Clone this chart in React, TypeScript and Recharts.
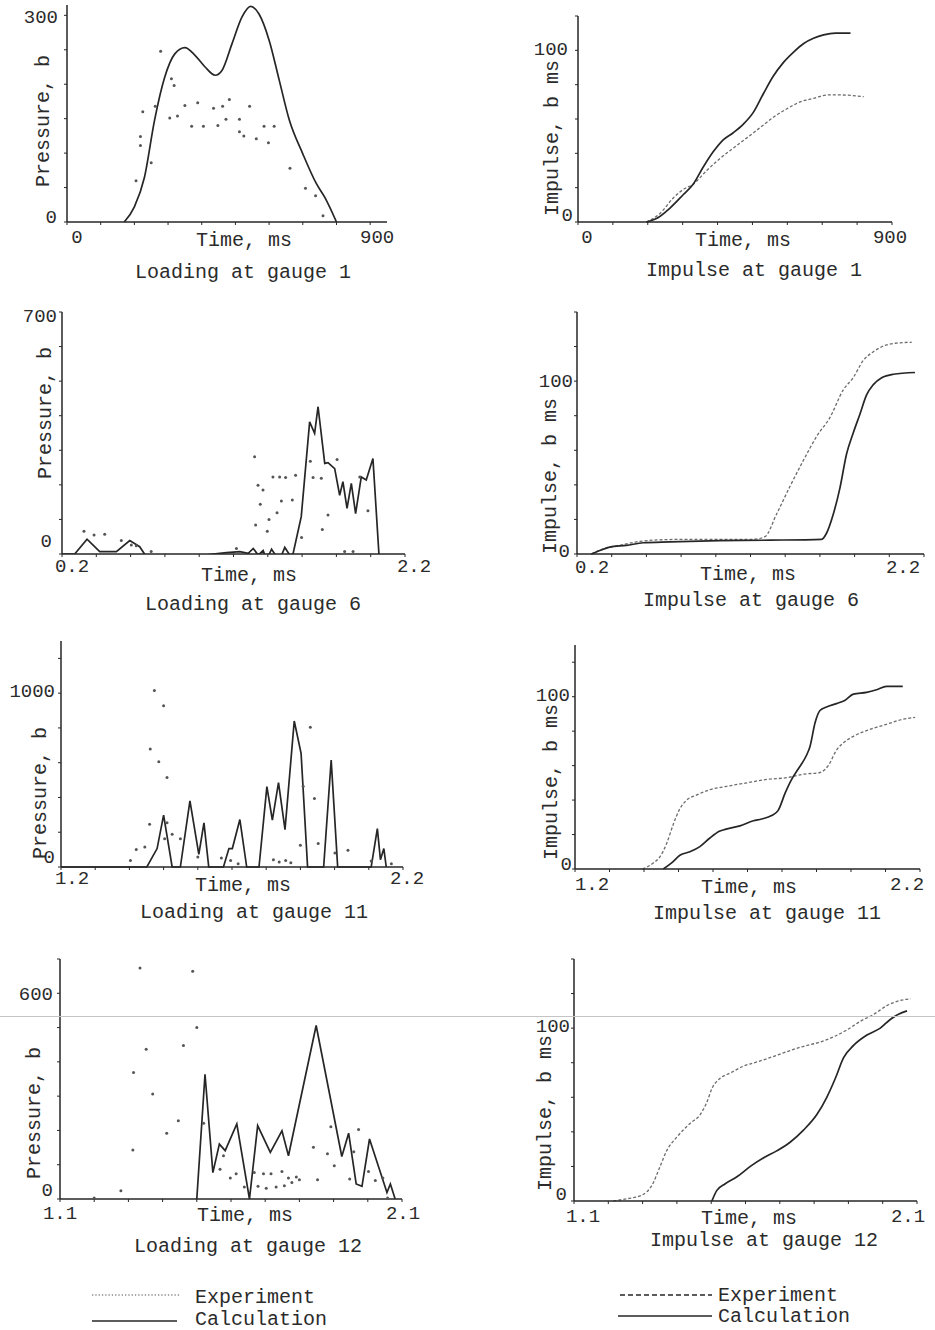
import { ComposedChart, Line, Scatter, XAxis, YAxis, Legend } from 'recharts'

type Pt = [number, number]

// ---- gauge 1: time in ms ----
const g1LoadExp: Pt[] = [
  [205, 60], [218, 124], [218, 111], [225, 160], [250, 86], [262, 168], [278, 248], [305, 151],
  [310, 208], [318, 198], [328, 154], [350, 169], [370, 139], [388, 173], [405, 139], [435, 165],
  [448, 140], [462, 168], [472, 149], [482, 178], [512, 149], [512, 131], [525, 125], [542, 168],
  [562, 121], [585, 139], [598, 115], [615, 139], [662, 78], [708, 49], [738, 38], [760, 9],
]
const g1LoadCalc: Pt[] = [
  [170, 0], [200, 22], [230, 65], [260, 148], [290, 210], [320, 244], [350, 253], [380, 242],
  [410, 225], [440, 213], [460, 220], [490, 259], [520, 298], [545, 313], [570, 302], [600, 264],
  [630, 206], [660, 148], [700, 99], [740, 56], [765, 36], [800, 0],
]
const g1ImpExp: Pt[] = [
  [196, 0], [235, 5], [273, 14], [302, 19], [330, 22], [369, 30], [407, 37], [445, 43], [484, 49],
  [522, 55], [560, 61], [599, 66], [637, 70], [675, 72], [714, 74], [752, 74], [819, 73],
]
const g1ImpCalc: Pt[] = [
  [196, 0], [225, 2], [263, 8], [302, 16], [330, 22], [359, 32], [388, 41], [417, 48], [445, 52],
  [474, 57], [503, 64], [532, 75], [560, 85], [589, 93], [618, 99], [647, 104], [675, 107],
  [704, 109], [738, 110], [781, 110],
]

// ---- gauge 6 ----
const g6LoadExp: Pt[] = [
  [0.328, 66], [0.387, 55], [0.449, 57], [0.546, 39], [0.604, 26], [0.633, 24], [0.72, 7],
  [1.217, 16], [1.323, 281], [1.343, 199], [1.372, 185], [1.356, 144], [1.329, 84], [1.407, 100],
  [1.397, 66], [1.43, 223], [1.454, 119], [1.469, 223], [1.504, 221], [1.479, 153], [1.543, 156],
  [1.562, 228], [1.597, 48], [1.648, 268], [1.664, 221], [1.712, 219], [1.718, 71], [1.751, 113],
  [1.804, 273], [1.848, 7], [1.897, 7], [1.936, 223], [1.984, 125],
]
const g6LoadCalc: Pt[] = [
  [0.2, 0], [0.274, 0], [0.346, 43], [0.42, 7], [0.517, 7], [0.595, 39], [0.653, 21], [0.692, -8],
  [0.77, -3], [0.848, -6], [0.926, -3], [1.003, -6], [1.081, 0], [1.159, 4], [1.237, 7],
  [1.286, 2], [1.315, 16], [1.344, -3], [1.373, 10], [1.393, -17], [1.422, 14], [1.451, -8],
  [1.47, -16], [1.499, 19], [1.528, -3], [1.547, 0], [1.595, 108], [1.644, 382], [1.673, 349],
  [1.693, 426], [1.732, 262], [1.751, 264], [1.79, 247], [1.819, 170], [1.838, 209], [1.862, 132],
  [1.887, 204], [1.912, 117], [1.945, 223], [1.974, 214], [2.013, 276], [2.048, 0],
]
const g6ImpExp: Pt[] = [
  [0.283, 0], [0.35, 3], [0.446, 5], [0.542, 7], [0.638, 8], [0.831, 8.5], [1.023, 8.5],
  [1.215, 8.5], [1.283, 10], [1.35, 23], [1.427, 39], [1.504, 54], [1.581, 68], [1.658, 79],
  [1.735, 95], [1.792, 102], [1.85, 112], [1.908, 117], [1.985, 121], [2.042, 122], [2.129, 122.5],
]
const g6ImpCalc: Pt[] = [
  [0.283, 0], [0.331, 2], [0.388, 4], [0.485, 5], [0.581, 6.5], [0.735, 7], [1.023, 7.7],
  [1.312, 8], [1.61, 8.5], [1.638, 12], [1.677, 23], [1.715, 38], [1.754, 58], [1.792, 70],
  [1.831, 81], [1.869, 92], [1.908, 98], [1.956, 102], [2.023, 104], [2.148, 105],
]

// ---- gauge 11 ----
const g11LoadExp: Pt[] = [
  [1.403, 38], [1.42, 100], [1.445, 115], [1.459, 246], [1.461, 679], [1.473, 1015], [1.486, 606],
  [1.5, 927], [1.51, 515], [1.503, 163], [1.51, 254], [1.525, 188], [1.549, 163], [1.6, 58],
  [1.669, 52], [1.696, 38], [1.718, 19], [1.821, 42], [1.838, 29], [1.857, 38], [1.872, 25],
  [1.9, 125], [1.908, 465], [1.929, 804], [1.941, 394], [1.952, 135], [2.001, 81], [2.039, 96],
  [2.107, 35], [2.166, 19],
]
const g11LoadCalc: Pt[] = [
  [1.2, 0], [1.451, 0], [1.481, 106], [1.5, 298], [1.525, 0], [1.549, 0], [1.577, 381],
  [1.603, 73], [1.618, 254], [1.632, 0], [1.675, 0], [1.691, 106], [1.701, 106], [1.723, 273],
  [1.743, 0], [1.779, 0], [1.802, 462], [1.818, 269], [1.836, 485], [1.855, 215], [1.882, 840],
  [1.902, 654], [1.921, 0], [1.968, 0], [1.99, 615], [2.009, 0], [2.107, 0], [2.125, 221],
  [2.134, 42], [2.144, 106], [2.151, 0],
]
const g11ImpExp: Pt[] = [
  [1.396, 0], [1.427, 3.5], [1.446, 7], [1.466, 15], [1.485, 26], [1.504, 35], [1.524, 40],
  [1.553, 43], [1.591, 46], [1.64, 48], [1.698, 50], [1.756, 52], [1.814, 53], [1.862, 55],
  [1.91, 56], [1.934, 60], [1.958, 69], [1.983, 74], [2.007, 77], [2.055, 81], [2.103, 84],
  [2.152, 87], [2.186, 88],
]
const g11ImpCalc: Pt[] = [
  [1.456, 0], [1.48, 3.5], [1.504, 8], [1.533, 10], [1.562, 13], [1.591, 18], [1.62, 22],
  [1.635, 23], [1.678, 25], [1.717, 28], [1.741, 29], [1.77, 31], [1.789, 34], [1.809, 44],
  [1.828, 52], [1.847, 58], [1.871, 66], [1.881, 71], [1.896, 85], [1.91, 92], [1.929, 94],
  [1.958, 96], [1.983, 98], [2.007, 101.5], [2.045, 102.5], [2.074, 104], [2.103, 106], [2.15, 106],
]

// ---- gauge 12 ----
const g12LoadExp: Pt[] = [
  [1.2, 3], [1.278, 24], [1.313, 143], [1.315, 369], [1.334, 674], [1.352, 437], [1.371, 306],
  [1.412, 192], [1.446, 228], [1.461, 448], [1.488, 664], [1.5, 500], [1.52, 221], [1.568, 87],
  [1.578, 126], [1.598, 61], [1.615, 74], [1.639, 35], [1.668, 77], [1.679, 37], [1.695, 74],
  [1.703, 31], [1.717, 74], [1.732, 35], [1.749, 80], [1.756, 39], [1.768, 61], [1.778, 48],
  [1.791, 64], [1.8, 56], [1.841, 151], [1.853, 56], [1.882, 132], [1.892, 211], [1.902, 97],
  [1.947, 58], [1.959, 138], [1.973, 203], [2.002, 80], [2.022, 54], [2.044, 61], [2.058, 3],
]
const g12LoadCalc: Pt[] = [
  [1.5, 0], [1.524, 364], [1.547, 77], [1.566, 160], [1.583, 141], [1.617, 219], [1.654, 0],
  [1.678, 214], [1.715, 136], [1.749, 199], [1.768, 126], [1.849, 506], [1.924, 124],
  [1.944, 192], [1.966, 44], [1.983, 37], [2.005, 175], [2.056, 19], [2.066, 44], [2.08, 0],
]
const g12ImpExp: Pt[] = [
  [1.215, 0], [1.254, 1.3], [1.297, 3.3], [1.327, 9], [1.351, 20], [1.37, 29], [1.4, 37],
  [1.439, 45], [1.468, 50], [1.487, 57], [1.502, 65], [1.526, 71], [1.555, 74], [1.594, 78],
  [1.643, 81], [1.701, 85], [1.76, 89], [1.818, 92], [1.857, 95], [1.896, 99], [1.935, 104],
  [1.974, 108], [2.012, 113], [2.051, 116], [2.081, 117],
]
const g12ImpCalc: Pt[] = [
  [1.502, 0], [1.516, 6], [1.541, 10], [1.575, 14], [1.614, 20], [1.653, 25], [1.691, 29],
  [1.73, 34], [1.769, 41], [1.808, 50], [1.837, 60], [1.862, 71], [1.886, 83], [1.915, 90],
  [1.954, 96], [1.993, 100], [2.022, 105], [2.046, 108], [2.071, 110],
]

// ---- ticks ----
const g1TimeTicks = [0, 100, 200, 300, 400, 500, 600, 700, 800, 900]
const g1PressureTicks = [0, 50, 100, 150, 200, 250, 300]
const g6TimeTicks = [0.2, 0.4, 0.6, 0.8, 1.0, 1.2, 1.4, 1.6, 1.8, 2.0, 2.2]
const g6PressureTicks = [0, 100, 200, 300, 400, 500, 600, 700]
const g11TimeTicks = [1.2, 1.3, 1.4, 1.5, 1.6, 1.7, 1.8, 1.9, 2.0, 2.1, 2.2]
const g11PressureTicks = [0, 200, 400, 600, 800, 1000, 1200]
const g12TimeTicks = [1.1, 1.2, 1.3, 1.4, 1.5, 1.6, 1.7, 1.8, 1.9, 2.0, 2.1]
const g12PressureTicks = [0, 100, 200, 300, 400, 500, 600, 700]
const impulseTicks120 = [0, 20, 40, 60, 80, 100, 120]
const impulseTicks140 = [0, 20, 40, 60, 80, 100, 120, 140]

const SERIES_NAMES = ['Experiment', 'Calculation']

const MONO = '"Liberation Mono", "DejaVu Sans Mono", monospace'
const INK = '#262626'
const GREY = '#6c6c6c'
const tickText = { fontFamily: MONO, fontSize: 19, fill: '#2b2b2b' }
const titleText = { fontFamily: MONO, fontSize: 20, fill: '#2b2b2b' }

interface PanelSpec {
  id: string
  left: number
  top: number
  width: number
  height: number
  plot: { x0: number; x1: number; y0: number; y1: number }
  xDomain: [number, number]
  yDomain: [number, number]
  xTicks: number[]
  yTicks: number[]
  xLabels: { value: number; dx: number }[]
  xLabelY: number
  yLabels: { value: number; dy: number; gap: number }[]
  yTitle: string
  yTitleAt: [number, number]
  xTitleAt: [number, number]
  caption: string
  captionAt: [number, number]
  exp: Pt[]
  calc: Pt[]
  expStyle: 'dots' | 'dashed'
  smooth: boolean
  clip?: boolean
  legend?: { left: number; top: number }
}

const panels: PanelSpec[] = [
  {
    id: 'load1', left: 0, top: -3, width: 430, height: 291,
    plot: { x0: 67, x1: 387, y0: 5, y1: 222 },
    xDomain: [0, 950], yDomain: [0, 315], xTicks: g1TimeTicks, yTicks: g1PressureTicks,
    xLabels: [{ value: 0, dx: 10 }, { value: 900, dx: 7 }], xLabelY: 238,
    yLabels: [{ value: 0, dy: -4, gap: 10 }, { value: 300, dy: 3, gap: 9 }],
    yTitle: 'Pressure, b', yTitleAt: [43, 121], xTitleAt: [244, 240],
    caption: 'Loading at gauge 1', captionAt: [243, 272],
    exp: g1LoadExp, calc: g1LoadCalc, expStyle: 'dots', smooth: true,
  },
  {
    id: 'load6', left: 0, top: 304, width: 430, height: 316,
    plot: { x0: 62, x1: 405, y0: 312, y1: 554 },
    xDomain: [0.2, 2.2], yDomain: [0, 700], xTicks: g6TimeTicks, yTicks: g6PressureTicks,
    xLabels: [{ value: 0.2, dx: 10 }, { value: 2.2, dx: 9 }], xLabelY: 567,
    yLabels: [{ value: 0, dy: -12, gap: 10 }, { value: 700, dy: 5, gap: 5 }],
    yTitle: 'Pressure, b', yTitleAt: [45, 413], xTitleAt: [249, 575],
    caption: 'Loading at gauge 6', captionAt: [253, 604],
    exp: g6LoadExp, calc: g6LoadCalc, expStyle: 'dots', smooth: false, clip: true,
  },
  {
    id: 'load11', left: 0, top: 633, width: 430, height: 295,
    plot: { x0: 61, x1: 403, y0: 641, y1: 867 },
    xDomain: [1.2, 2.2], yDomain: [0, 1300], xTicks: g11TimeTicks, yTicks: g11PressureTicks,
    xLabels: [{ value: 1.2, dx: 11 }, { value: 2.2, dx: 4 }], xLabelY: 879,
    yLabels: [{ value: 0, dy: -9, gap: 6 }, { value: 1000, dy: -1, gap: 6 }],
    yTitle: 'Pressure, b', yTitleAt: [40, 793], xTitleAt: [243, 885],
    caption: 'Loading at gauge 11', captionAt: [254, 912],
    exp: g11LoadExp, calc: g11LoadCalc, expStyle: 'dots', smooth: false,
  },
  {
    id: 'load12', left: 0, top: 951, width: 430, height: 379,
    plot: { x0: 60, x1: 402, y0: 959, y1: 1199 },
    xDomain: [1.1, 2.1], yDomain: [0, 700], xTicks: g12TimeTicks, yTicks: g12PressureTicks,
    xLabels: [{ value: 1.1, dx: 0 }, { value: 2.1, dx: 1 }], xLabelY: 1214,
    yLabels: [{ value: 0, dy: -8, gap: 7 }, { value: 600, dy: 2, gap: 7 }],
    yTitle: 'Pressure, b', yTitleAt: [34, 1113], xTitleAt: [245, 1215],
    caption: 'Loading at gauge 12', captionAt: [248, 1246],
    exp: g12LoadExp, calc: g12LoadCalc, expStyle: 'dots', smooth: false,
    legend: { left: 90, top: 333 },
  },
  {
    id: 'imp1', left: 505, top: 8, width: 430, height: 278,
    plot: { x0: 578, x1: 892, y0: 16, y1: 222 },
    xDomain: [0, 900], yDomain: [0, 120], xTicks: g1TimeTicks, yTicks: impulseTicks120,
    xLabels: [{ value: 0, dx: 9 }, { value: 900, dx: -2 }], xLabelY: 238,
    yLabels: [{ value: 0, dy: -6, gap: 5 }, { value: 100, dy: 0, gap: 10 }],
    yTitle: 'Impulse, b ms', yTitleAt: [552, 138], xTitleAt: [743, 240],
    caption: 'Impulse at gauge 1', captionAt: [754, 270],
    exp: g1ImpExp, calc: g1ImpCalc, expStyle: 'dashed', smooth: true,
  },
  {
    id: 'imp6', left: 505, top: 304, width: 430, height: 312,
    plot: { x0: 577, x1: 924, y0: 312, y1: 554 },
    xDomain: [0.2, 2.2], yDomain: [0, 140], xTicks: g6TimeTicks, yTicks: impulseTicks140,
    xLabels: [{ value: 0.2, dx: 15 }, { value: 2.2, dx: -21 }], xLabelY: 568,
    yLabels: [{ value: 0, dy: -2, gap: 7 }, { value: 100, dy: 1, gap: 4 }],
    yTitle: 'Impulse, b ms', yTitleAt: [550, 476], xTitleAt: [748, 574],
    caption: 'Impulse at gauge 6', captionAt: [751, 600],
    exp: g6ImpExp, calc: g6ImpCalc, expStyle: 'dashed', smooth: true,
  },
  {
    id: 'imp11', left: 505, top: 637, width: 430, height: 292,
    plot: { x0: 575, x1: 920, y0: 645, y1: 869 },
    xDomain: [1.2, 2.2], yDomain: [0, 130], xTicks: g11TimeTicks, yTicks: impulseTicks120,
    xLabels: [{ value: 1.2, dx: 17 }, { value: 2.2, dx: -13 }], xLabelY: 885,
    yLabels: [{ value: 0, dy: -4, gap: 3 }, { value: 100, dy: -1, gap: 5 }],
    yTitle: 'Impulse, b ms', yTitleAt: [551, 782], xTitleAt: [749, 887],
    caption: 'Impulse at gauge 11', captionAt: [767, 913],
    exp: g11ImpExp, calc: g11ImpCalc, expStyle: 'dashed', smooth: true,
  },
  {
    id: 'imp12', left: 505, top: 951, width: 430, height: 379,
    plot: { x0: 574, x1: 917, y0: 959, y1: 1201 },
    xDomain: [1.1, 2.1], yDomain: [0, 140], xTicks: g12TimeTicks, yTicks: impulseTicks140,
    xLabels: [{ value: 1.1, dx: 9 }, { value: 2.1, dx: -9 }], xLabelY: 1217,
    yLabels: [{ value: 0, dy: -6, gap: 7 }, { value: 100, dy: -1, gap: 4 }],
    yTitle: 'Impulse, b ms', yTitleAt: [545, 1113], xTitleAt: [749, 1218],
    caption: 'Impulse at gauge 12', captionAt: [764, 1240],
    exp: g12ImpExp, calc: g12ImpCalc, expStyle: 'dashed', smooth: true,
    legend: { left: 107, top: 331 },
  },
]

const toRows = (pts: Pt[]) => pts.map(([t, v]) => ({ t, v }))
const near = (a: number, b: number) => Math.abs(a - b) < 1e-6

const LegendKey = ({ kind }: { kind: 'dots' | 'dashed' }) => {
  const dotted = kind === 'dots'
  const x1 = dotted ? 90 : 100
  const tx = dotted ? 105 : 106
  return (
    <svg width={280} height={48} style={{ display: 'block' }}>
      <line x1={dotted ? 2 : 8} x2={x1} y1={dotted ? 11 : 13} y2={dotted ? 11 : 13}
        stroke={dotted ? '#8a8a8a' : INK} strokeWidth={dotted ? 1.6 : 1.3}
        strokeDasharray={dotted ? '1.3 2' : '5 3'} />
      <text x={tx} y={13} dominantBaseline="central" style={titleText}>{SERIES_NAMES[0]}</text>
      <line x1={dotted ? 2 : 6} x2={dotted ? 87 : x1} y1={dotted ? 37 : 34} y2={dotted ? 37 : 34}
        stroke={INK} strokeWidth={1.7} />
      <text x={tx} y={dotted ? 35 : 34} dominantBaseline="central" style={titleText}>{SERIES_NAMES[1]}</text>
    </svg>
  )
}

const Panel = ({ spec }: { spec: PanelSpec }) => {
  const { left, top, width, height, plot } = spec
  const lx = (x: number) => x - left
  const ly = (y: number) => y - top

  const xTick = (props: any) => {
    const hit = spec.xLabels.find((l) => near(l.value, props.payload.value))
    if (!hit) return <g />
    return (
      <text x={props.x + hit.dx} y={ly(spec.xLabelY)} textAnchor="middle" dominantBaseline="central" style={tickText}>
        {String(hit.value)}
      </text>
    )
  }
  const yTick = (props: any) => {
    const hit = spec.yLabels.find((l) => near(l.value, props.payload.value))
    if (!hit) return <g />
    return (
      <text x={props.x + 3 - hit.gap} y={props.y + hit.dy} textAnchor="end" dominantBaseline="central" style={tickText}>
        {String(hit.value)}
      </text>
    )
  }
  const xTitles = () => (
    <g>
      <text x={lx(spec.xTitleAt[0])} y={ly(spec.xTitleAt[1])} textAnchor="middle" dominantBaseline="central" style={titleText}>
        Time, ms
      </text>
      <text x={lx(spec.captionAt[0])} y={ly(spec.captionAt[1])} textAnchor="middle" dominantBaseline="central" style={titleText}>
        {spec.caption}
      </text>
    </g>
  )
  const yTitle = () => {
    const x = lx(spec.yTitleAt[0])
    const y = ly(spec.yTitleAt[1])
    return (
      <text x={x} y={y} transform={`rotate(-90 ${x} ${y})`} textAnchor="middle" dominantBaseline="central" style={titleText}>
        {spec.yTitle}
      </text>
    )
  }

  return (
    <div style={{ position: 'absolute', left, top }}>
      <ComposedChart
        width={width}
        height={height}
        margin={{ top: plot.y0 - top, right: left + width - plot.x1, bottom: 0, left: 0 }}
      >
        <XAxis
          type="number"
          dataKey="t"
          domain={spec.xDomain}
          ticks={spec.xTicks}
          interval={0}
          height={top + height - plot.y1}
          tickSize={3}
          tickMargin={0}
          tick={xTick}
          axisLine={{ stroke: INK, strokeWidth: 1.5 }}
          tickLine={{ stroke: INK }}
          label={{ value: 'Time, ms', content: xTitles }}
        />
        <YAxis
          type="number"
          dataKey="v"
          domain={spec.yDomain}
          ticks={spec.yTicks}
          interval={0}
          width={plot.x0 - left}
          allowDataOverflow={!!spec.clip}
          tickSize={3}
          tickMargin={0}
          tick={yTick}
          axisLine={{ stroke: INK, strokeWidth: 1.5 }}
          tickLine={{ stroke: INK }}
          label={{ value: spec.yTitle, content: yTitle }}
        />
        {spec.expStyle === 'dots' ? (
          <Scatter
            name={SERIES_NAMES[0]}
            data={toRows(spec.exp)}
            isAnimationActive={false}
            shape={(p: any) => <circle cx={p.cx} cy={p.cy} r={1.5} fill="#555" />}
          />
        ) : (
          <Line
            name={SERIES_NAMES[0]}
            data={toRows(spec.exp)}
            dataKey="v"
            type="monotone"
            stroke={GREY}
            strokeWidth={1.3}
            strokeDasharray="3 2"
            dot={false}
            isAnimationActive={false}
          />
        )}
        <Line
          name={SERIES_NAMES[1]}
          data={toRows(spec.calc)}
          dataKey="v"
          type={spec.smooth ? 'monotone' : 'linear'}
          stroke={INK}
          strokeWidth={1.7}
          dot={false}
          isAnimationActive={false}
        />
        {spec.legend && (
          <Legend
            layout="vertical"
            align="center"
            verticalAlign="middle"
            wrapperStyle={{ left: spec.legend.left, top: spec.legend.top, width: 280 }}
            content={() => <LegendKey kind={spec.expStyle} />}
          />
        )}
      </ComposedChart>
    </div>
  )
}

export default function App() {
  return (
    <div style={{ position: 'absolute', left: 0, top: 0, width: 935, height: 1330, background: '#fff', overflow: 'hidden' }}>
      {panels.map((p) => (
        <Panel key={p.id} spec={p} />
      ))}
      {/* faint scan line that runs across the page */}
      <div style={{ position: 'absolute', left: 0, top: 1016, width: 935, height: 1, background: '#c4c4c4', pointerEvents: 'none' }} />
    </div>
  )
}
